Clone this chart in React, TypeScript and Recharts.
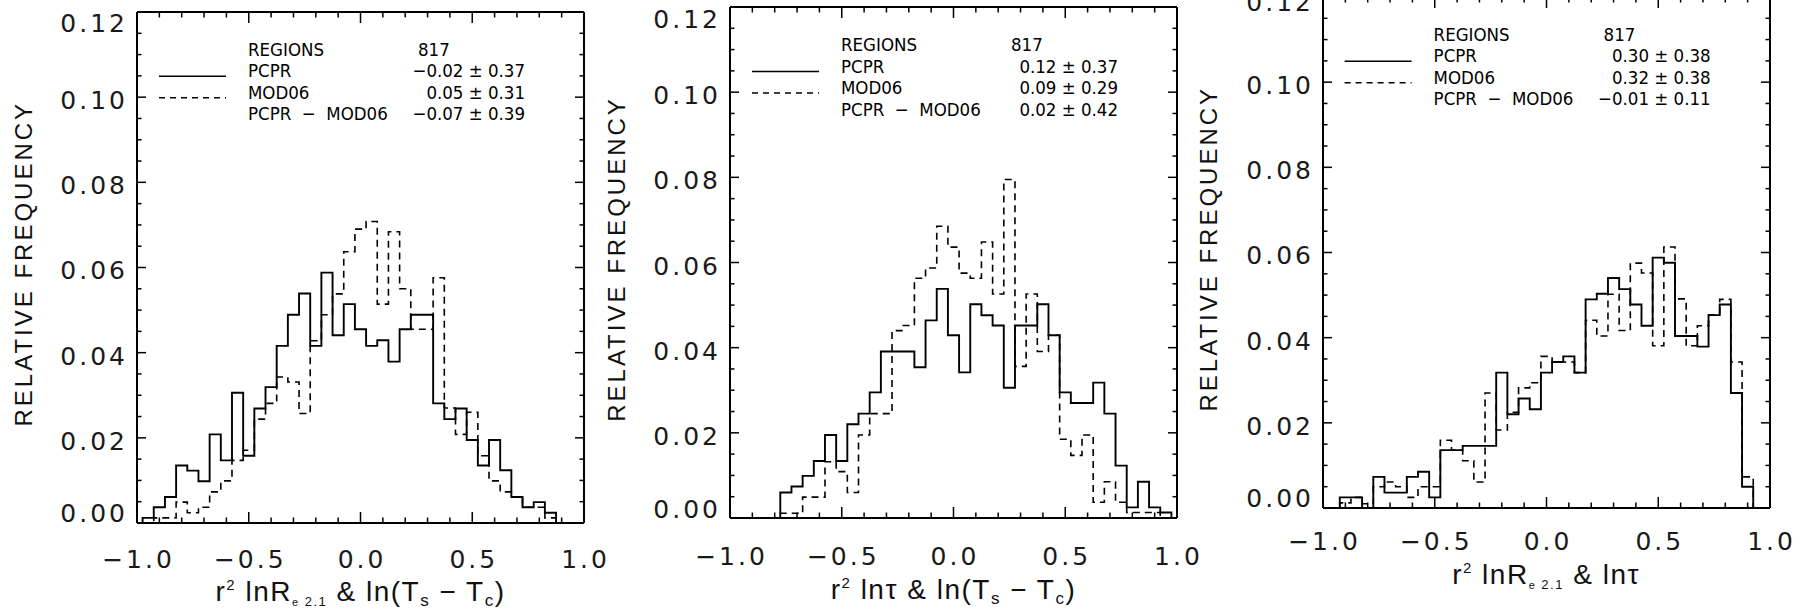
import React from 'react';
import { LineChart, Line, XAxis, YAxis } from 'recharts';

// bin centres of the histograms (width 0.05)
const BIN_CENTERS = Array.from({ length: 41 }, (_, i) => Math.round((-1 + i * 0.05) * 100) / 100);
const BIN_HALF = 0.025;

const X_MINOR = Array.from({ length: 21 }, (_, i) => Math.round((-1 + i * 0.1) * 10) / 10);
const X_MAJOR = [-1, -0.5, 0, 0.5, 1];
const Y_MINOR = Array.from({ length: 25 }, (_, i) => (i * 5) / 1000);
const Y_MAJOR = [0, 0.02, 0.04, 0.06, 0.08, 0.1, 0.12];

const LEGEND_ROWS = ['REGIONS', 'PCPR', 'MOD06', 'PCPR  \u2212  MOD06'];

// panel 1 : r^2 lnRe2.1 & ln(Ts - Tc)
const P1_PCPR = [
  0, 0.0012, 0.0037, 0.0061, 0.0135, 0.0123, 0.0098, 0.0208, 0.0147, 0.0306,
  0.0158, 0.0269, 0.0319, 0.0416, 0.0489, 0.0539, 0.0416, 0.0588, 0.0441, 0.0514,
  0.0455, 0.0416, 0.0429, 0.0379, 0.0455, 0.0489, 0.0489, 0.0281, 0.0244, 0.0269,
  0.0195, 0.0135, 0.0195, 0.0124, 0.0061, 0.0037, 0.0049, 0.0024, 0, 0, 0,
];
const P1_MOD06 = [
  0, 0, 0.0012, 0.0012, 0.0049, 0.0024, 0.0037, 0.0073, 0.0099, 0.0147,
  0.0171, 0.0244, 0.0281, 0.0343, 0.0331, 0.0257, 0.0428, 0.0489, 0.0538, 0.0637,
  0.069, 0.0708, 0.0514, 0.0684, 0.055, 0.0455, 0.0455, 0.0576, 0.027, 0.0208,
  0.026, 0.0158, 0.0099, 0.0073, 0.0061, 0.0037, 0.0037, 0.0012, 0, 0, 0,
];
const P1_STATS = ['817', '\u22120.02 \u00b1 0.37', '0.05 \u00b1 0.31', '\u22120.07 \u00b1 0.39'];

// panel 2 : r^2 ln tau & ln(Ts - Tc)
const P2_PCPR = [
  0, 0, 0, 0, 0, 0.006, 0.0074, 0.0099, 0.0134, 0.0195,
  0.0134, 0.022, 0.0245, 0.0295, 0.0391, 0.0391, 0.0391, 0.0354, 0.0464, 0.0538,
  0.0429, 0.0342, 0.0502, 0.0476, 0.0452, 0.0306, 0.0452, 0.0452, 0.0502, 0.0429,
  0.0295, 0.027, 0.027, 0.0318, 0.0245, 0.0123, 0.0025, 0.0085, 0.0025, 0.0013, 0,
];
const P2_MOD06 = [
  0, 0, 0, 0, 0, 0.0011, 0.0011, 0.0049, 0.0049, 0.0132,
  0.0109, 0.006, 0.0195, 0.0245, 0.0245, 0.044, 0.0452, 0.0563, 0.0587, 0.0685,
  0.0636, 0.0575, 0.0563, 0.0648, 0.0526, 0.0795, 0.0356, 0.0526, 0.0391, 0.0429,
  0.0185, 0.0147, 0.0195, 0.0037, 0.0085, 0.0037, 0.0013, 0.0013, 0.0013, 0, 0,
];
const P2_STATS = ['817', '0.12 \u00b1 0.37', '0.09 \u00b1 0.29', '0.02 \u00b1 0.42'];

// panel 3 : r^2 lnRe2.1 & ln tau
const P3_PCPR = [
  0, 0, 0.0025, 0.0025, 0, 0.0073, 0.0036, 0.0036, 0.0073, 0.0085,
  0.0025, 0.0136, 0.0136, 0.0146, 0.0146, 0.0146, 0.0318, 0.022, 0.0257, 0.0232,
  0.0318, 0.0343, 0.0356, 0.0318, 0.049, 0.0503, 0.054, 0.0514, 0.0478, 0.0428,
  0.0588, 0.0576, 0.0404, 0.0404, 0.0379, 0.0453, 0.0478, 0.027, 0.005, 0, 0,
];
const P3_MOD06 = [
  0, 0, 0.0012, 0.0025, 0.001, 0.005, 0.0061, 0.005, 0.0025, 0.005,
  0.005, 0.0159, 0.0136, 0.0111, 0.0061, 0.027, 0.0183, 0.0225, 0.0282, 0.0294,
  0.0356, 0.0343, 0.0343, 0.0318, 0.0441, 0.0404, 0.0502, 0.0417, 0.0575, 0.0552,
  0.0381, 0.0613, 0.0491, 0.0381, 0.0428, 0.0453, 0.049, 0.0343, 0.0073, 0, 0,
];
const P3_STATS = ['817', '0.30 \u00b1 0.38', '0.32 \u00b1 0.38', '\u22120.01 \u00b1 0.11'];

type Seg = { t: string; k: 'n' | 'sup' | 'sub' | 'tiny' | 'small' };

const TITLE_RE_TS: Seg[] = [
  { t: 'r', k: 'n' }, { t: '2', k: 'sup' }, { t: ' lnR', k: 'n' }, { t: 'e', k: 'tiny' },
  { t: ' 2.1', k: 'small' }, { t: ' & ln(T', k: 'n' }, { t: 's', k: 'sub' },
  { t: ' \u2212 T', k: 'n' }, { t: 'c', k: 'sub' }, { t: ')', k: 'n' },
];
const TITLE_TAU_TS: Seg[] = [
  { t: 'r', k: 'n' }, { t: '2', k: 'sup' }, { t: ' ln\u03c4 & ln(T', k: 'n' }, { t: 's', k: 'sub' },
  { t: ' \u2212 T', k: 'n' }, { t: 'c', k: 'sub' }, { t: ')', k: 'n' },
];
const TITLE_RE_TAU: Seg[] = [
  { t: 'r', k: 'n' }, { t: '2', k: 'sup' }, { t: ' lnR', k: 'n' }, { t: 'e', k: 'tiny' },
  { t: ' 2.1', k: 'small' }, { t: ' & ln\u03c4', k: 'n' },
];

const FONT = "'Liberation Sans', Arial, Helvetica, sans-serif";
const TICK_FONT = "'DejaVu Sans', Verdana, sans-serif";
const LEGEND_FONT = "'DejaVu Sans Condensed', 'Liberation Sans Narrow', 'DejaVu Sans', sans-serif";

const BOX_W = 447;
const BOX_H = 511;

const PANELS = [
  { left: 137, top: 11.7, pcpr: P1_PCPR, mod06: P1_MOD06, stats: P1_STATS, title: TITLE_RE_TS, topShift: 11.5, xLabelY: 559, titleY: 601 },
  { left: 730, top: 7, pcpr: P2_PCPR, mod06: P2_MOD06, stats: P2_STATS, title: TITLE_TAU_TS, topShift: 12.5, xLabelY: 556, titleY: 599 },
  { left: 1322.6, top: -3.3, pcpr: P3_PCPR, mod06: P3_MOD06, stats: P3_STATS, title: TITLE_RE_TAU, topShift: 6, xLabelY: 541, titleY: 584 },
];

function stepTable(pcpr: number[], mod06: number[]) {
  const rows = BIN_CENTERS.map((c, i) => ({ x: c - BIN_HALF, pcpr: pcpr[i], mod06: mod06[i] }));
  const last = BIN_CENTERS.length - 1;
  rows.push({ x: BIN_CENTERS[last] + BIN_HALF, pcpr: pcpr[last], mod06: mod06[last] });
  return rows;
}

const isMajorX = (v: number) => X_MAJOR.some((m) => Math.abs(m - v) < 1e-6);
const isMajorY = (v: number) => Y_MAJOR.some((m) => Math.abs(m - v) < 1e-6);
const fmtX = (v: number) => (v < 0 ? '\u2212' : '') + Math.abs(v).toFixed(1);

function Panel({ p }: { p: (typeof PANELS)[number] }) {
  const padL = 140;
  const padR = 30;
  const padT = 24;
  const chartLeft = p.left - padL;
  const chartTop = p.top - padT;
  const W = BOX_W + padL + padR;
  const H = 612 - chartTop;
  const data = stepTable(p.pcpr, p.mod06);
  const axisLine = { stroke: '#000', strokeWidth: 2 };

  const bottomTick = (t: any) => {
    const v = t.payload.value;
    const major = isMajorX(v);
    return (
      <g>
        <line x1={t.x} x2={t.x} y1={t.y} y2={t.y - (major ? 11 : 5.5)} stroke="#000" strokeWidth={1.5} />
        {major && (
          <text x={t.x + 1.5} y={p.xLabelY - chartTop} textAnchor="middle" dominantBaseline="central"
            fontFamily={TICK_FONT} fontSize={25} letterSpacing={3} fill="#1a1a1a">{fmtX(v)}</text>
        )}
      </g>
    );
  };
  const topTick = (t: any) => {
    const major = isMajorX(t.payload.value);
    return <line x1={t.x} x2={t.x} y1={t.y} y2={t.y + (major ? 11 : 5.5)} stroke="#000" strokeWidth={1.5} />;
  };
  const leftTick = (t: any) => {
    const v = t.payload.value;
    const major = isMajorY(v);
    // the end labels are pulled inside the frame, the others sit a little low
    const shift = Math.abs(v - 0.12) < 1e-6 ? p.topShift : v < 1e-6 ? -9 : 3.5;
    return (
      <g>
        <line x1={t.x} x2={t.x + (major ? 9 : 4.5)} y1={t.y} y2={t.y} stroke="#000" strokeWidth={1.5} />
        {major && (
          <text x={t.x - 9} y={t.y + shift} textAnchor="end" dominantBaseline="central"
            fontFamily={TICK_FONT} fontSize={25} letterSpacing={3} fill="#1a1a1a">{v.toFixed(2)}</text>
        )}
      </g>
    );
  };
  const rightTick = (t: any) => {
    const major = isMajorY(t.payload.value);
    return <line x1={t.x} x2={t.x - (major ? 9 : 4.5)} y1={t.y} y2={t.y} stroke="#000" strokeWidth={1.5} />;
  };

  // axes take 1px each (recharts skips zero-sized axes)
  return (
    <div style={{ position: 'absolute', left: chartLeft, top: chartTop }}>
      <LineChart width={W} height={H} data={data}
        margin={{ top: padT - 1, left: padL - 1, right: padR - 1, bottom: H - padT - BOX_H - 1 }}>
        <XAxis xAxisId="b" dataKey="x" type="number" domain={[-1, 1]} allowDataOverflow
          ticks={X_MINOR} interval={0} tickSize={0} tickMargin={0} tickLine={false} height={1}
          axisLine={axisLine} tick={bottomTick} />
        <XAxis xAxisId="t" orientation="top" dataKey="x" type="number" domain={[-1, 1]} allowDataOverflow
          ticks={X_MINOR} interval={0} tickSize={0} tickMargin={0} tickLine={false} height={1}
          axisLine={axisLine} tick={topTick} />
        <YAxis yAxisId="l" type="number" domain={[0, 0.12]} allowDataOverflow
          ticks={Y_MINOR} interval={0} tickSize={0} tickMargin={0} tickLine={false} width={1}
          axisLine={axisLine} tick={leftTick} />
        <YAxis yAxisId="r" orientation="right" type="number" domain={[0, 0.12]} allowDataOverflow
          ticks={Y_MINOR} interval={0} tickSize={0} tickMargin={0} tickLine={false} width={1}
          axisLine={axisLine} tick={rightTick} />
        <Line xAxisId="b" yAxisId="l" type="stepAfter" dataKey="mod06" stroke="#000"
          strokeWidth={1.6} strokeDasharray="7 5" dot={false} isAnimationActive={false} />
        <Line xAxisId="b" yAxisId="l" type="stepAfter" dataKey="pcpr" stroke="#000"
          strokeWidth={1.9} dot={false} isAnimationActive={false} />
      </LineChart>
    </div>
  );
}

const SEG_SIZE = { n: 28, sup: 15, sub: 17, tiny: 11, small: 13 };
const SEG_SHIFT = { n: 0, sup: -11, sub: 5, tiny: 5, small: 5 };

function Title({ segs, x, y }: { segs: Seg[]; x: number; y: number }) {
  let cur = 0;
  return (
    <text x={x} y={y} textAnchor="middle" fontFamily={FONT} fontSize={28} letterSpacing={1.5}
      fill="#111" style={{ whiteSpace: 'pre' }}>
      {segs.map((s, i) => {
        const dy = SEG_SHIFT[s.k] - cur;
        cur = SEG_SHIFT[s.k];
        return <tspan key={i} dy={dy} fontSize={SEG_SIZE[s.k]}>{s.t}</tspan>;
      })}
    </text>
  );
}

function Overlay() {
  return (
    <svg width={1806} height={612} style={{ position: 'absolute', left: 0, top: 0, pointerEvents: 'none' }}>
      {PANELS.map((p, i) => {
        const cx = p.left + BOX_W / 2;
        return (
          <g key={i}>
            <text transform={`translate(${p.left - 114},${p.top + 252}) rotate(-90)`} textAnchor="middle"
              dominantBaseline="central" fontFamily={FONT} fontSize={24} letterSpacing={3} fill="#111">
              RELATIVE FREQUENCY
            </text>
            <Title segs={p.title} x={cx} y={p.titleY} />
            <line x1={p.left + 22} x2={p.left + 89} y1={p.top + 64.5} y2={p.top + 64.5} stroke="#000" strokeWidth={1.5} />
            <line x1={p.left + 22} x2={p.left + 89} y1={p.top + 86} y2={p.top + 86} stroke="#000"
              strokeWidth={1.5} strokeDasharray="6 5" />
            {LEGEND_ROWS.map((r, j) => (
              <g key={j}>
                <text x={p.left + 111} y={p.top + 44 + 21.5 * j} fontFamily={LEGEND_FONT} fontSize={18.5}
                  fill="#000" style={{ whiteSpace: 'pre' }}>{r}</text>
                <text x={j === 0 ? p.left + 281 : p.left + 388} y={p.top + 44 + 21.5 * j}
                  textAnchor={j === 0 ? 'start' : 'end'} fontFamily={LEGEND_FONT} fontSize={18.5}
                  fill="#000">{p.stats[j]}</text>
              </g>
            ))}
          </g>
        );
      })}
    </svg>
  );
}

export default function App() {
  return (
    <div style={{ position: 'absolute', left: 0, top: 0, width: 1806, height: 612, background: '#fff', overflow: 'hidden' }}>
      {PANELS.map((p, i) => (
        <Panel key={i} p={p} />
      ))}
      <Overlay />
    </div>
  );
}
